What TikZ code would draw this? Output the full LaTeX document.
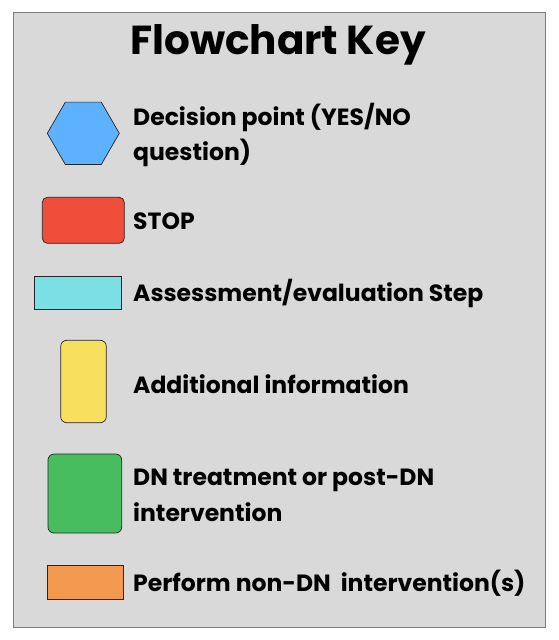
\documentclass[tikz,border=0pt]{standalone}
\usepackage{fontspec}
\setmainfont{Poppins}
\usetikzlibrary{shapes.geometric}
\definecolor{framefill}{HTML}{D9D9D9}
\definecolor{framedraw}{HTML}{7F7F7F}
\definecolor{hexblue}{HTML}{5EB1FF}
\definecolor{stopred}{HTML}{F04D3A}
\definecolor{assesscyan}{HTML}{7CDFE6}
\definecolor{infoyellow}{HTML}{F9DF5E}
\definecolor{dngreen}{HTML}{48BD5F}
\definecolor{nondnorange}{HTML}{F49A50}
\begin{document}
\begin{tikzpicture}[x=1pt,y=-1pt,
  keybox/.style={draw=black!85, line width=0.7pt},
  keylabel/.style={anchor=base west, inner sep=0pt, font=\fontsize{23.5}{28}\selectfont\bfseries, text=black}]
\useasboundingbox (0,0) rectangle (558,640);
\fill[white] (0,0) rectangle (558,640);
\draw[fill=framefill, draw=framedraw, line width=1pt] (13,12) rectangle (545,627);
\node[anchor=base, inner sep=0pt, font=\fontsize{40.5}{44}\selectfont\bfseries] (title) at (278,54) {Flowchart Key};
% hexagon
\node[keybox, fill=hexblue, regular polygon, regular polygon sides=6, minimum size=72pt, inner sep=0pt, shape border rotate=0] (hex) at (83.3,133.3) {};
\node[keylabel] (l1a) at (133,125.7) {Decision point (YES/NO};
\node[keylabel] (l1b) at (133,160) {question)};
% stop
\draw[keybox, fill=stopred, rounded corners=5pt] (42.3,197.3) rectangle (124.3,243.3);
\node[keylabel] (l2) at (133,229) {STOP};
% assessment
\draw[keybox, fill=assesscyan] (34,276) rectangle (121.7,309.3);
\node[keylabel] (l3) at (133,301.7) {Assessment/evaluation Step};
% yellow
\draw[keybox, fill=infoyellow, rounded corners=6pt] (60.7,340.3) rectangle (106.3,422.7);
\node[keylabel] (l4) at (133,393.3) {Additional information};
% green
\draw[keybox, fill=dngreen, rounded corners=6pt] (48,454) rectangle (121.7,533);
\node[keylabel] (l5a) at (133,485.7) {DN treatment or post-DN};
\node[keylabel] (l5b) at (133,521.7) {intervention};
% orange
\draw[keybox, fill=nondnorange] (47,565) rectangle (123,599);
\node[keylabel] (l6) at (133,591.7) {Perform non-DN\ \ intervention(s)};
\end{tikzpicture}
\end{document}
